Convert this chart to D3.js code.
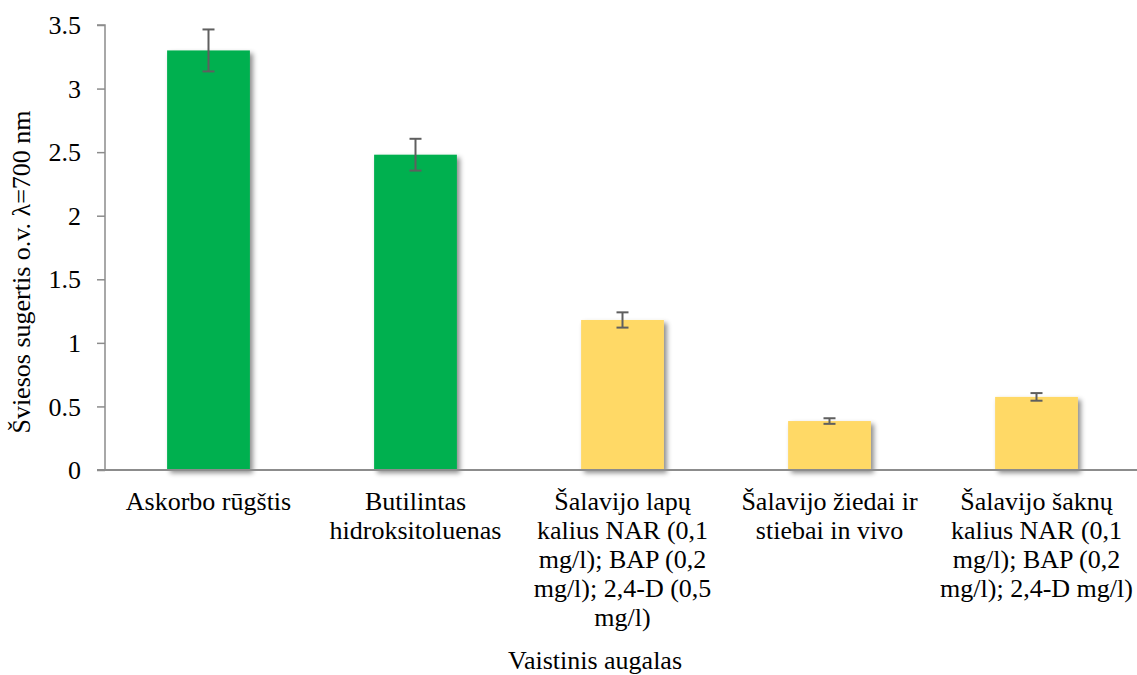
<!DOCTYPE html>
<html>
<head>
<meta charset="utf-8">
<script src="https://cdn.jsdelivr.net/npm/d3@7"></script>
<style>
  html, body { margin: 0; padding: 0; background: #fff; }
</style>
</head>
<body>
<svg id="chart" width="1137" height="675"></svg>
<script>
// Categories (label lines), bar values, error half-widths and bar colours
const categories = [
  ["Askorbo rūgštis"],
  ["Butilintas", "hidroksitoluenas"],
  ["Šalavijo lapų", "kalius NAR (0,1", "mg/l); BAP (0,2", "mg/l); 2,4-D (0,5", "mg/l)"],
  ["Šalavijo žiedai ir", "stiebai in vivo"],
  ["Šalavijo šaknų", "kalius NAR (0,1", "mg/l); BAP (0,2", "mg/l); 2,4-D mg/l)"]
];
const values = [3.30, 2.48, 1.18, 0.385, 0.575];
const errors = [0.165, 0.125, 0.06, 0.022, 0.03];
const barColors = ["#00b050", "#00b050", "#ffd966", "#ffd966", "#ffd966"];
const yTicks = [0, 0.5, 1, 1.5, 2, 2.5, 3, 3.5];
const yTickLabels = ["0", "0.5", "1", "1.5", "2", "2.5", "3", "3.5"];
const yTitle = "Šviesos sugertis o.v. λ=700 nm";
const xTitle = "Vaistinis augalas";

const svg = d3.select("#chart");
const plotLeft = 105, plotRight = 1140, plotTop = 25, plotBottom = 470;
const fontFam = '"Liberation Serif"';
const fontSize = "26px";
const styleText = sel => sel.style("font-family", fontFam).style("font-size", fontSize).style("fill", "#000");

const defs = svg.append("defs");
const shadow = defs.append("filter").attr("id", "shadow")
  .attr("x", "-10%").attr("y", "-10%").attr("width", "130%").attr("height", "130%");
shadow.append("feDropShadow")
  .attr("dx", 3).attr("dy", 3).attr("stdDeviation", 2.5)
  .attr("flood-color", "#000").attr("flood-opacity", 0.45);

const idx = categories.map((d, i) => i);
const x = d3.scaleBand().domain(idx).range([plotLeft, plotRight]).paddingInner(0.6).paddingOuter(0.3);
const y = d3.scaleLinear().domain([0, 3.5]).range([plotBottom, plotTop]);

// Bars
svg.append("g").selectAll("rect").data(idx).join("rect")
  .attr("x", i => x(i))
  .attr("y", i => y(values[i]))
  .attr("width", x.bandwidth())
  .attr("height", i => y(0) - y(values[i]))
  .attr("fill", i => barColors[i])
  .attr("filter", "url(#shadow)");

// Y axis
const yAxis = svg.append("g").attr("transform", `translate(${plotLeft},0)`)
  .call(d3.axisLeft(y).tickValues(yTicks).tickSize(8).tickPadding(16)
    .tickFormat((d, i) => yTickLabels[i]));
yAxis.select(".domain").attr("stroke", "#8c8c8c").attr("stroke-width", 1.5)
  .attr("d", `M-8,${y(3.5)}H0V${y(0)}`);
yAxis.selectAll(".tick line").attr("stroke", "#8c8c8c").attr("stroke-width", 1.5);
yAxis.selectAll(".tick text").call(styleText).attr("dy", "0.33em");

// X axis baseline
const xAxis = svg.append("g").attr("transform", `translate(0,${plotBottom})`)
  .call(d3.axisBottom(x).tickSize(0).tickFormat(""));
xAxis.select(".domain").attr("stroke", "#8c8c8c").attr("stroke-width", 2)
  .attr("d", `M${plotLeft - 8},0H1137`);

// Error bars
const eb = svg.append("g").attr("stroke", "#5f5f5f").attr("stroke-width", 2);
idx.forEach(i => {
  const cx = x(i) + x.bandwidth() / 2;
  const y1 = y(values[i] + errors[i]), y2 = y(values[i] - errors[i]);
  eb.append("line").attr("x1", cx).attr("x2", cx).attr("y1", y1).attr("y2", y2);
  eb.append("line").attr("x1", cx - 6).attr("x2", cx + 6).attr("y1", y1).attr("y2", y1);
  eb.append("line").attr("x1", cx - 6).attr("x2", cx + 6).attr("y1", y2).attr("y2", y2);
});

// Category labels
const lineH = 29;
const cat = svg.append("g");
idx.forEach(i => {
  const t = cat.append("text")
    .attr("x", x(i) + x.bandwidth() / 2)
    .attr("y", plotBottom + 40)
    .attr("text-anchor", "middle")
    .call(styleText);
  categories[i].forEach((line, k) => {
    t.append("tspan").attr("x", x(i) + x.bandwidth() / 2)
      .attr("dy", k === 0 ? 0 : lineH).text(line);
  });
});

// Axis titles
svg.append("text")
  .attr("transform", `translate(30,${272}) rotate(-90)`)
  .attr("text-anchor", "middle")
  .call(styleText)
  .text(yTitle);

svg.append("text")
  .attr("x", 595).attr("y", 669)
  .attr("text-anchor", "middle")
  .call(styleText)
  .text(xTitle);
</script>
</body>
</html>
